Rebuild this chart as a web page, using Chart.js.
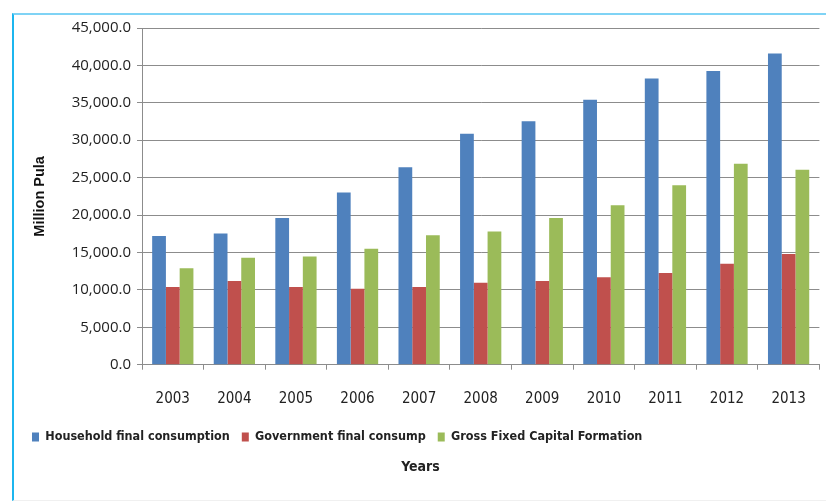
<!DOCTYPE html>
<html>
<head>
<meta charset="utf-8">
<script src="https://cdn.jsdelivr.net/npm/chart.js@4/dist/chart.umd.min.js"></script>
<style>
  html, body { margin: 0; padding: 0; background: #fff; }
  #wrap { position: relative; width: 826px; height: 503px; }
  #frame { position: absolute; left: 12px; top: 13px; right: 0; bottom: 2px;
           border-left: 2px solid #1cb6ef; border-top: 2px solid #7fd3f5;
           border-bottom: 1px solid #f0f0f0; }
  canvas { position: absolute; left: 0; top: 0; }
</style>
</head>
<body>
<div id="wrap">
  <div id="frame"></div>
  <canvas id="gdp" width="826" height="503"></canvas>
</div>
<script>
    // data (million Pula)
    const years = ['2003', '2004', '2005', '2006', '2007', '2008', '2009', '2010', '2011', '2012', '2013'];
    const household = [17200, 17550, 19600, 23000, 26400, 30850, 32550, 35400, 38250, 39250, 41600];
    const government = [10400, 11200, 10400, 10150, 10400, 10950, 11200, 11700, 12250, 13500, 14800];
    const grossFixed = [12900, 14300, 14450, 15500, 17300, 17800, 19600, 21300, 24000, 26850, 26050];
    const seriesNames = ['Household final consumption', 'Government final consump', 'Gross Fixed Capital Formation'];

    const COLORS = {
    blue: '#4f81bd',
    red: '#c0504d',
    green: '#9bbb59',
    grid: '#8c8c8c'
};

    const narrow = "'Liberation Sans Narrow', 'DejaVu Sans Condensed', Lato, sans-serif";

    const data = {
    labels: years,
    datasets: [
{
    label: seriesNames[0],
    backgroundColor: COLORS.blue,
    data: household
},
{
    label: seriesNames[1],
    backgroundColor: COLORS.red,
    data: government
},
{
    label: seriesNames[2],
    backgroundColor: COLORS.green,
    data: grossFixed
}]
};

    const myChart = new Chart(document.getElementById('gdp').getContext('2d'), {
    type: 'bar',
    data: data,
    options: {
    responsive: false,
    animation: false,
    layout: {
    padding: { left: 20, right: 5, top: 28, bottom: 27 }
},
    datasets: {
    bar: { categoryPercentage: 0.67, barPercentage: 1.0 }
},
    plugins: {
    legend: {
    position: 'bottom',
    align: 'start',
    labels: {
    boxWidth: 7,
    boxHeight: 9,
    padding: 12,
    color: '#222',
    font: { family: narrow, size: 12.5, weight: 'bold' }
}
},
    title: {
    display: true,
    position: 'bottom',
    text: 'Years',
    color: '#222',
    padding: { top: 6, bottom: 0 },
    font: { family: narrow, size: 14, weight: 'bold' }
},
    tooltip: { enabled: false }
},
    scales: {
    x: {
    afterFit: scale => { scale.height = 54; },
    grid: {
    offset: true,
    drawOnChartArea: false,
    tickLength: 5,
    color: COLORS.grid
},
    border: { color: COLORS.grid },
    ticks: {
    padding: 20,
    color: '#222',
    font: { family: narrow, size: 15 }
}
},
    y: {
    min: 0,
    max: 45000,
    afterFit: scale => { scale.width = 122; },
    grid: { color: COLORS.grid, tickLength: 5 },
    border: { color: COLORS.grid },
    title: {
    display: true,
    text: 'Million Pula',
    color: '#111',
    padding: { top: 11, bottom: 0 },
    font: { family: "Arial, 'Liberation Sans', sans-serif", size: 14.5, weight: 'bold' }
},
    ticks: {
    stepSize: 5000,
    padding: 6,
    color: '#222',
    font: { family: "'Open Sans', sans-serif", size: 15 },
    callback: v => v.toLocaleString('en-US', { minimumFractionDigits: 1, maximumFractionDigits: 1 })
}
}
}
}
});
</script>
</body>
</html>
